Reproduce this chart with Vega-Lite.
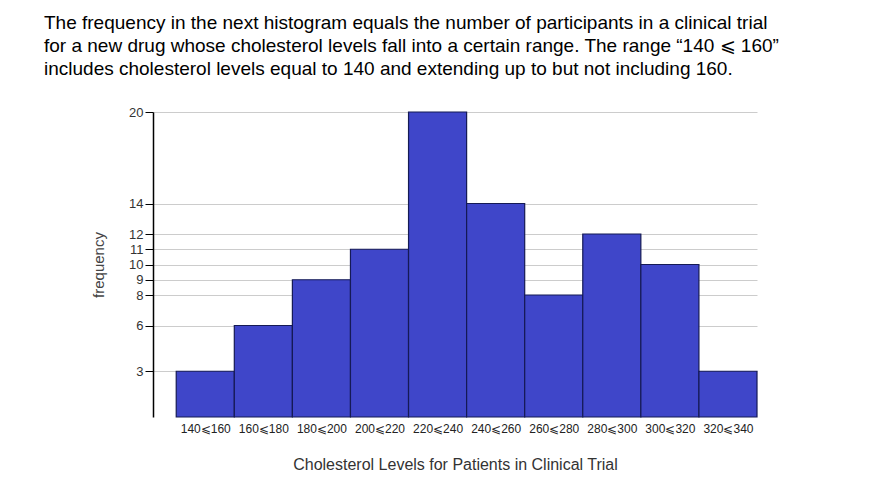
{
  "$schema": "https://vega.github.io/schema/vega-lite/v6.json",
  "autosize": "none",
  "width": 604,
  "height": 305,
  "padding": {"left": 153, "top": 112, "right": 114, "bottom": 77},
  "background": "white",
  "config": {"view": {"stroke": null}, "font": "Liberation Sans"},
  "title": {
    "text": [
      "The frequency in the next histogram equals the number of participants in a clinical trial",
      "for a new drug whose cholesterol levels fall into a certain range. The range “140 ⩽ 160”",
      "includes cholesterol levels equal to 140 and extending up to but not including 160."
    ],
    "anchor": "start",
    "frame": "group",
    "dx": -109,
    "offset": 27,
    "fontSize": 19,
    "fontWeight": "normal",
    "lineHeight": 23,
    "color": "#000000",
    "font": "Liberation Sans"
  },
  "data": {
    "values": [
      {"start": 140, "end": 160, "label": "140⩽160", "frequency": 3},
      {"start": 160, "end": 180, "label": "160⩽180", "frequency": 6},
      {"start": 180, "end": 200, "label": "180⩽200", "frequency": 9},
      {"start": 200, "end": 220, "label": "200⩽220", "frequency": 11},
      {"start": 220, "end": 240, "label": "220⩽240", "frequency": 20},
      {"start": 240, "end": 260, "label": "240⩽260", "frequency": 14},
      {"start": 260, "end": 280, "label": "260⩽280", "frequency": 8},
      {"start": 280, "end": 300, "label": "280⩽300", "frequency": 12},
      {"start": 300, "end": 320, "label": "300⩽320", "frequency": 10},
      {"start": 320, "end": 340, "label": "320⩽340", "frequency": 3}
    ]
  },
  "mark": {"type": "rect", "fill": "#3f46c9", "stroke": "#151a55", "strokeWidth": 1.2},
  "encoding": {
    "x": {
      "field": "start",
      "type": "quantitative",
      "scale": {"domain": [132, 340], "nice": false, "zero": false},
      "axis": {
        "values": [150, 170, 190, 210, 230, 250, 270, 290, 310, 330],
        "labelExpr": "(datum.value - 10) + '⩽' + (datum.value + 10)",
        "domain": false,
        "ticks": false,
        "grid": false,
        "labelFontSize": 12,
        "labelColor": "#222222",
        "labelPadding": 6,
        "labelFont": "Liberation Sans",
        "title": "Cholesterol Levels for Patients in Clinical Trial",
        "titleFontSize": 16,
        "titleFontWeight": "normal",
        "titleColor": "#333333",
        "titlePadding": 22,
        "titleFont": "Liberation Sans"
      }
    },
    "x2": {"field": "end"},
    "y": {
      "field": "frequency",
      "type": "quantitative",
      "scale": {"domain": [0, 20], "nice": false},
      "axis": {
        "values": [3, 6, 8, 9, 10, 11, 12, 14, 20],
        "domainColor": "#000000",
        "domainWidth": 1.5,
        "tickColor": "#000000",
        "tickSize": 8,
        "gridColor": "#cccccc",
        "gridWidth": 1,
        "labelFontSize": 13,
        "labelColor": "#333333",
        "labelFont": "Liberation Sans",
        "title": "frequency",
        "titleFontSize": 15,
        "titleFontWeight": "normal",
        "titleColor": "#444444",
        "titlePadding": 22,
        "titleFont": "Liberation Sans"
      }
    },
    "y2": {"datum": 0}
  }
}
